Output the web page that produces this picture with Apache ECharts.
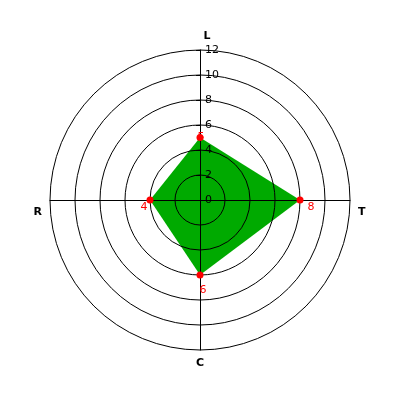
<!DOCTYPE html>
<html><head><meta charset="utf-8">
<script src="https://cdn.jsdelivr.net/npm/echarts@6/dist/echarts.min.js"></script>
<style>html,body{margin:0;padding:0;background:#fff}#c{width:400px;height:400px}</style>
</head><body><div id="c"></div>
<script>
// radar order (ECharts goes counter-clockwise from top): L, R, C, T
var categories = ['L', 'R', 'C', 'T'];
var values = [5, 4, 6, 8];
var tickValues = [0, 2, 4, 6, 8, 10, 12];
var axisMax = 12;

var chart = echarts.init(document.getElementById('c'), null, {renderer: 'canvas'});
var nameRich = {
  L: {padding: [0, 0, 0, 14]},
  R: {padding: [24, 0, 0, 0]},
  C: {padding: [0, 0, 0, 0]},
  T: {padding: [24, 0, 0, 0]}
};
var labelRich = {
  d0: {padding: [0, 0, 0, 2]},
  d1: {padding: [14, 12, 0, 0]},
  d2: {padding: [30, 0, 0, 6]},
  d3: {padding: [14, 0, 0, 22]}
};
Object.keys(labelRich).forEach(function (k) {
  labelRich[k].color = '#ff0000'; labelRich[k].fontSize = 11; labelRich[k].fontFamily = 'DejaVu Sans';
});
chart.setOption({
  animation: false,
  backgroundColor: '#ffffff',
  radar: {
    z: 3,
    center: [200, 200],
    radius: 150,
    shape: 'circle',
    splitNumber: tickValues.length - 1,
    startAngle: 90,
    indicator: categories.map(function (n) { return {name: n, min: 0, max: axisMax}; }),
    axisName: {
      color: '#000', fontSize: 11, fontWeight: 'bold', fontFamily: 'DejaVu Sans',
      formatter: function (n) { return '{' + n + '|' + n + '}'; },
      rich: nameRich
    },
    nameGap: 8,
    axisLine: {lineStyle: {color: '#000', width: 1}},
    splitLine: {lineStyle: {color: '#000', width: 1}},
    splitArea: {show: false}
  },
  polar: {center: [200, 200], radius: 150},
  angleAxis: {type: 'value', startAngle: 90, show: false, min: 0, max: 360},
  radiusAxis: {
    z: 5,
    type: 'value', min: 0, max: axisMax, interval: 2,
    axisLine: {show: false},
    axisTick: {show: true, length: 4, lineStyle: {color: '#000'}},
    splitLine: {show: false},
    axisLabel: {color: '#000', fontSize: 11, fontFamily: 'DejaVu Sans', margin: -5, align: 'left',
      showMinLabel: true, showMaxLabel: true,
      formatter: function (v) { return tickValues.indexOf(v) >= 0 ? String(v) : ''; }}
  },
  series: [{
    type: 'radar',
    z: 2,
    symbol: 'none',
    lineStyle: {width: 0, color: '#00aa00'},
    areaStyle: {color: '#00aa00', opacity: 1},
    data: [{value: values}]
  }, {
    type: 'radar',
    z: 6,
    symbol: 'circle',
    symbolSize: 7,
    itemStyle: {color: '#ff0000'},
    lineStyle: {width: 0, opacity: 0},
    label: {
      show: true, position: 'inside',
      formatter: function (p) { return '{d' + p.dimensionIndex + '|' + p.value + '}'; },
      rich: labelRich
    },
    data: [{value: values}]
  }]
});
</script></body></html>
